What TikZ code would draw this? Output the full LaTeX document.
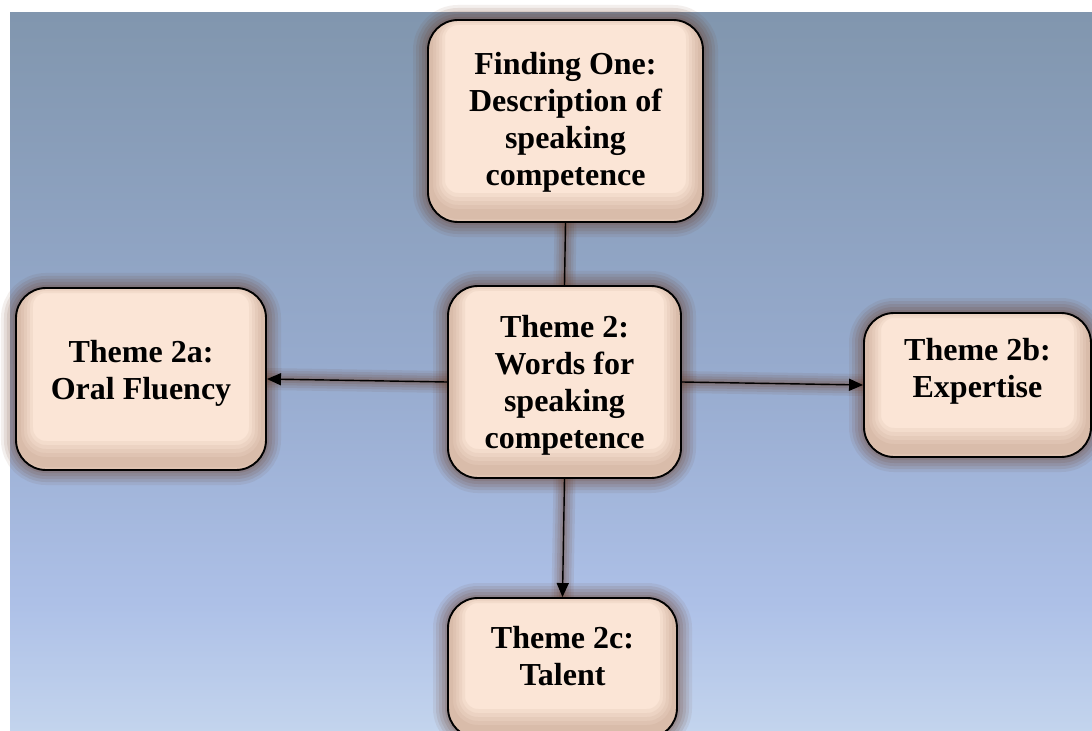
\documentclass[tikz,border=0pt]{standalone}
\usepackage{fontspec}
\setmainfont{Liberation Serif}
\usetikzlibrary{arrows.meta}
\definecolor{boxfill}{HTML}{FBE5D6}
\definecolor{glowc}{HTML}{6A3A22}
\definecolor{innerc}{HTML}{7A4A30}
\definecolor{bgT}{HTML}{8196AE}
\definecolor{bgM}{HTML}{97ABCE}
\definecolor{bgMM}{HTML}{ADC0E7}
\definecolor{bgB}{HTML}{C3D4ED}
\pgfdeclareverticalshading{bgshade}{100bp}{color(0bp)=(bgB); color(25bp)=(bgB); color(34bp)=(bgMM); color(50bp)=(bgM); color(75bp)=(bgT); color(100bp)=(bgT)}
\pgfdeclarelayer{bglayer}
\pgfdeclarelayer{glowlayer}
\pgfsetlayers{bglayer,glowlayer,main}
\begin{document}
\begin{tikzpicture}[x=1bp,y=-1bp,
  box/.style={draw=black, line width=1.9bp, fill=boxfill, rounded corners=30bp, inner sep=0pt,
    preaction={draw=glowc, draw opacity=0.08, line width=30bp},
    preaction={draw=glowc, draw opacity=0.10, line width=24bp},
    preaction={draw=glowc, draw opacity=0.11, line width=18bp},
    preaction={draw=glowc, draw opacity=0.12, line width=12bp},
    preaction={draw=glowc, draw opacity=0.14, line width=6bp},
    path picture={
      \foreach \w/\s in {34/12,28/11,22/10,16/9,10/8}{
        \draw[innerc, opacity=0.055, line width=\w bp, rounded corners=30bp]
          ([yshift=\s bp]path picture bounding box.south west) rectangle ([yshift=\s bp]path picture bounding box.north east);
      }
    }},
  lbl/.style={align=center, font=\fontsize{32bp}{37bp}\selectfont\bfseries, inner sep=0pt},
  conn/.style={line width=1.4bp, draw=black},
  arr/.style={conn, -{Triangle[length=14bp,width=12bp]}},
  cglow/.style={draw=glowc, line cap=round}
]
\useasboundingbox (0,0) rectangle (1092,731);
\begin{pgfonlayer}{bglayer}
  \fill[white] (0,0) rectangle (1092,731);
  \shade[shading=bgshade] (10,13) rectangle (1092,731);
\end{pgfonlayer}

% boxes
\node[box, minimum width=275bp, minimum height=202bp] (f1) at (565.5,121) {};
\node[box, minimum width=233bp, minimum height=192bp] (c) at (564.5,382) {};
\node[box, minimum width=250bp, minimum height=182bp] (l) at (141,379) {};
\node[box, minimum width=227bp, minimum height=144bp] (r) at (977.5,385) {};
\node[box, minimum width=229bp, minimum height=140bp] (b) at (562.5,668) {};

% labels
\node[lbl] (f1t) at (565.5,122) {Finding One:\\Description of\\speaking\\competence};
\node[lbl] (ct) at (564.5,385) {Theme 2:\\Words for\\speaking\\competence};
\node[lbl] (lt) at (141,373) {Theme 2a:\\Oral Fluency};
\node[lbl] (rt) at (977.5,371) {Theme 2b:\\Expertise};
\node[lbl] (bt) at (562.5,656.5) {Theme 2c:\\Talent};

% connector glows
\begin{pgfonlayer}{glowlayer}
  \foreach \w/\o in {22/0.09,17/0.10,12/0.12,7/0.14,3/0.16}{
    \draw[cglow, line width=\w bp, draw opacity=\o] (f1.south) -- (c.north);
    \draw[cglow, line width=\w bp, draw opacity=\o] (c.west) -- (l.east);
    \draw[cglow, line width=\w bp, draw opacity=\o] (c.east) -- (r.west);
    \draw[cglow, line width=\w bp, draw opacity=\o] (c.south) -- (b.north);
  }
\end{pgfonlayer}

% connectors
\draw[conn] (f1.south) -- (c.north);
\draw[arr] (c.west) -- (l.east);
\draw[arr] (c.east) -- (r.west);
\draw[arr] (c.south) -- (b.north);
\end{tikzpicture}
\end{document}
